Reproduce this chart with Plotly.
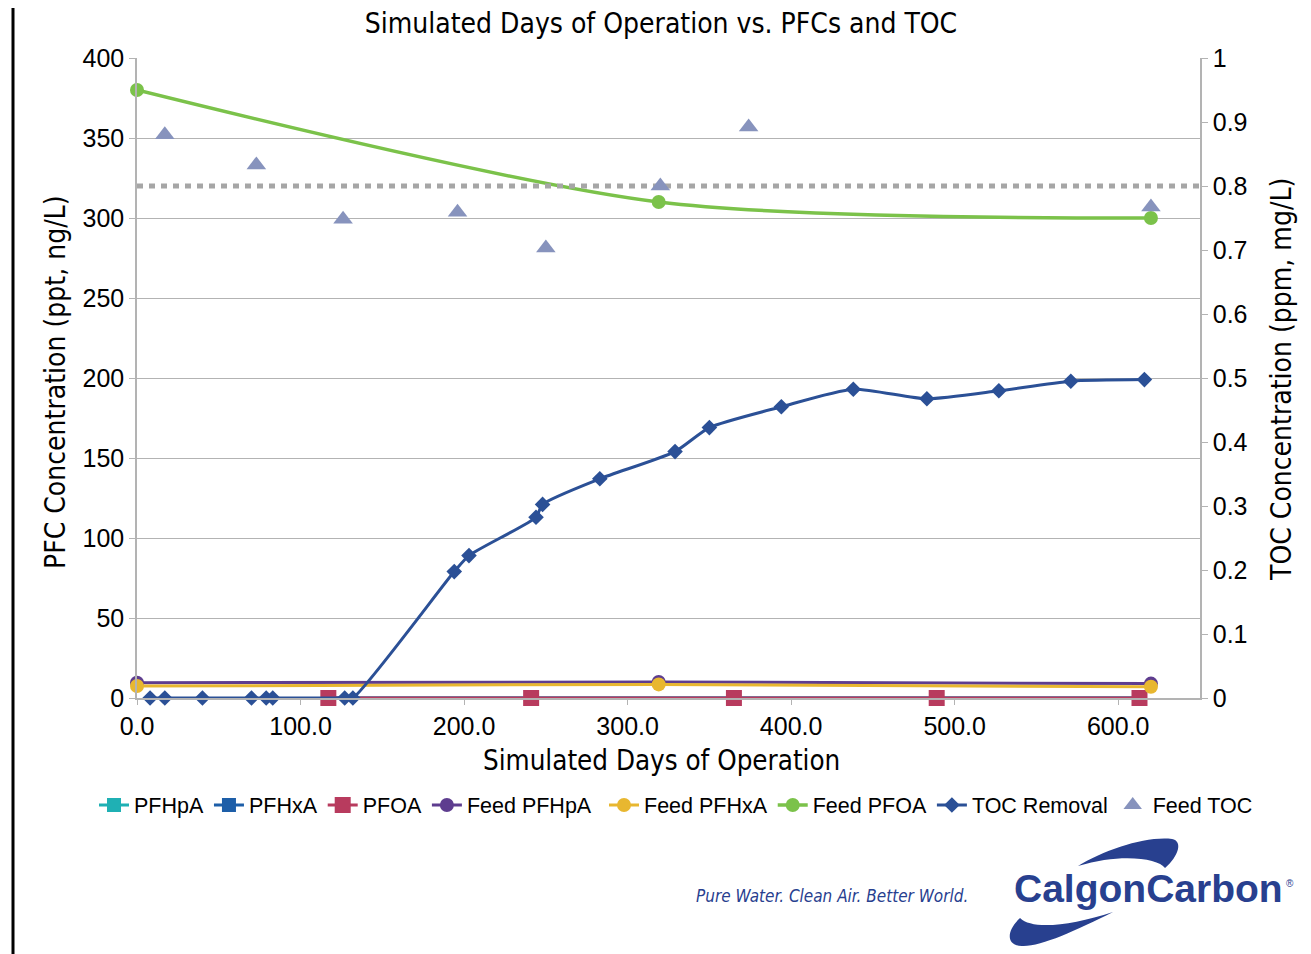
import plotly.graph_objects as go

# PFC series (left axis, ppt)
pfc_days = [117, 241, 365, 489, 613]
pfhpa = [0, 0, 0, 0, 0]
pfhxa = [0, 0, 0, 0, 0]
pfoa = [0, 0, 0, 0, 0]

# feed concentrations (left axis, ppt)
feed_days = [0, 319, 620]
feed_pfhpa = [9.5, 10, 9]
feed_pfhxa = [7.5, 8.5, 7]
feed_pfoa = [380, 310, 300]

# TOC removal (plotted on left scale)
toc_days = [8, 17, 40, 70, 79, 83, 127, 132, 194, 203, 244, 248, 283, 329, 350, 394,
            438, 483, 527, 571, 616]
toc_removal = [0, 0, 0, 0, 0, 0, 0, 0, 79, 89, 113, 121, 137, 154, 169, 182,
               193, 187, 192, 198, 199]

# feed TOC (right axis, ppm)
feed_toc_days = [17, 73, 126, 196, 250, 320, 374, 620]
feed_toc = [0.88, 0.833, 0.748, 0.759, 0.703, 0.80, 0.892, 0.767]
toc_limit = 0.8
day_span = [0, 650]

NARROW = "DejaVu Sans Condensed, Arial"
BLUE = "#28408f"

# page body adds 8px, so work in reference pixels and shift
OFF = 8
W, H = 1311 - OFF, 954 - OFF
L, R, T, B = 137, 1200, 58, 698   # plot area in reference pixels


def pxx(x):
    return (x - L) / (R - L)


def pxy(y):
    return (B - y) / (B - T)


def path(pts):
    out = ""
    for cmd, coords in pts:
        out += cmd + " " + " ".join("%.4f,%.4f" % (pxx(a), pxy(b)) for a, b in coords) + " "
    return out + "Z"


fig = go.Figure()

fig.add_trace(go.Scatter(x=day_span, y=[toc_limit, toc_limit], yaxis="y2", mode="lines",
                         line=dict(color="#a6a6a6", width=5, dash="6px,6px"),
                         showlegend=False, hoverinfo="skip"))

fig.add_trace(go.Scatter(x=pfc_days, y=pfhpa, name="PFHpA", mode="lines+markers",
                         line=dict(color="#1fb0b4", width=3), cliponaxis=False,
                         marker=dict(symbol="square", size=14, color="#1fb0b4")))
fig.add_trace(go.Scatter(x=pfc_days, y=pfhxa, name="PFHxA", mode="lines+markers",
                         line=dict(color="#1d5ea8", width=3), cliponaxis=False,
                         marker=dict(symbol="square", size=14, color="#1d5ea8")))
fig.add_trace(go.Scatter(x=pfc_days, y=pfoa, name="PFOA", mode="lines+markers",
                         line=dict(color="#b83b5e", width=3), cliponaxis=False,
                         marker=dict(symbol="square", size=16, color="#b83b5e")))
fig.add_trace(go.Scatter(x=feed_days, y=feed_pfhpa, name="Feed PFHpA", mode="lines+markers",
                         line=dict(color="#5e3d8f", width=3, shape="spline"), cliponaxis=False,
                         marker=dict(symbol="circle", size=14, color="#5e3d8f")))
fig.add_trace(go.Scatter(x=feed_days, y=feed_pfhxa, name="Feed PFHxA", mode="lines+markers",
                         line=dict(color="#e8b730", width=3, shape="spline"), cliponaxis=False,
                         legend="legend2",
                         marker=dict(symbol="circle", size=14, color="#e8b730")))
fig.add_trace(go.Scatter(x=feed_days, y=feed_pfoa, name="Feed PFOA", mode="lines+markers",
                         line=dict(color="#7bc24a", width=3.5, shape="spline", smoothing=0.8),
                         cliponaxis=False, legend="legend2",
                         marker=dict(symbol="circle", size=14, color="#7bc24a")))
fig.add_trace(go.Scatter(x=toc_days, y=toc_removal, name="TOC Removal", mode="lines+markers",
                         line=dict(color="#2b5096", width=3, shape="spline", smoothing=0.6),
                         cliponaxis=False, legend="legend2",
                         marker=dict(symbol="diamond", size=12, color="#2b5096")))
fig.add_trace(go.Scatter(x=feed_toc_days, y=feed_toc, name="Feed TOC", mode="markers",
                         yaxis="y2", cliponaxis=False, legend="legend2",
                         marker=dict(symbol="triangle-up", size=17, color="#8793bd")))

top_swoosh = path([("M", [(1078, 866)]),
                   ("C", [(1105, 850), (1145, 836), (1172, 839)]),
                   ("C", [(1183, 841), (1179, 856), (1165, 868)]),
                   ("C", [(1158, 858), (1120, 853), (1078, 866)])])
bottom_swoosh = path([("M", [(1113, 912)]),
                      ("C", [(1075, 931), (1040, 947), (1022, 946)]),
                      ("C", [(1006, 946), (1006, 931), (1020, 918)]),
                      ("C", [(1032, 930), (1070, 926), (1113, 912)])])

tick_font = dict(size=25, family="Arial, Liberation Sans", color="black")
legend_style = dict(orientation="h", xref="container", yref="container",
                    y=1 - (805 - OFF) / H, yanchor="middle",
                    font=dict(size=21.5), tracegroupgap=0, bgcolor="rgba(0,0,0,0)")

fig.update_layout(
    width=W, height=H,
    margin=dict(l=L - OFF, r=W - (R - OFF), t=T - OFF, b=H - (B - OFF)),
    paper_bgcolor="white", plot_bgcolor="white",
    font=dict(family="Arial, Liberation Sans", color="black", size=22),
    title=dict(text="Simulated Days of Operation vs. PFCs and TOC", x=pxx(661), xref="paper",
               xanchor="center", y=1 - (23 - OFF) / H, yanchor="middle",
               font=dict(family=NARROW, size=28, color="black")),
    xaxis=dict(range=day_span, dtick=100, tickformat=".1f", showgrid=False,
               showline=True, linecolor="#b3b3b3", linewidth=1.5,
               ticks="outside", ticklen=5, tickcolor="#b3b3b3",
               tickfont=tick_font, zeroline=False),
    yaxis=dict(range=[0, 400], dtick=50, showgrid=True, gridcolor="#b3b3b3", gridwidth=1.2,
               showline=True, linecolor="#b3b3b3", linewidth=1.5,
               ticks="outside", ticklen=6, tickcolor="#b3b3b3",
               tickfont=tick_font, zeroline=False),
    yaxis2=dict(range=[0, 1], dtick=0.1, overlaying="y", side="right", showgrid=False,
                showline=True, linecolor="#b3b3b3", linewidth=1.5,
                ticks="outside", ticklen=6, tickcolor="#b3b3b3",
                tickfont=tick_font, zeroline=False),
    legend=dict(legend_style, x=(94 - OFF) / W, xanchor="left"),
    legend2=dict(legend_style, x=(1258 - OFF) / W, xanchor="right"),
    showlegend=True,
)


def label(text, x, y, size, angle=0, family=NARROW, color="black"):
    fig.add_annotation(text=text, xref="paper", yref="paper", x=pxx(x), y=pxy(y),
                       xanchor="center", yanchor="middle", showarrow=False, textangle=angle,
                       font=dict(family=family, size=size, color=color))


label("Simulated Days of Operation", 661, 760, 27.5)
label("PFC Concentration (ppt, ng/L)", 55, 383, 28, -90)
label("TOC Concentration (ppm, mg/L)", 1281, 380, 28, -90)
label("<i>Pure Water. Clean Air. Better World.</i>", 832, 896, 17, color=BLUE)
label("<b>CalgonCarbon</b>", 1148, 888, 39, family="Arial, Liberation Sans", color=BLUE)
label("®", 1290, 883, 10, family="Arial, Liberation Sans", color=BLUE)

fig.add_shape(type="path", xref="paper", yref="paper", path=top_swoosh,
              fillcolor=BLUE, line=dict(width=0))
fig.add_shape(type="path", xref="paper", yref="paper", path=bottom_swoosh,
              fillcolor=BLUE, line=dict(width=0))
fig.add_shape(type="line", xref="paper", yref="paper",
              x0=pxx(13), x1=pxx(13), y0=pxy(0), y1=pxy(960),
              line=dict(color="black", width=3))

fig.write_html("out.html")
